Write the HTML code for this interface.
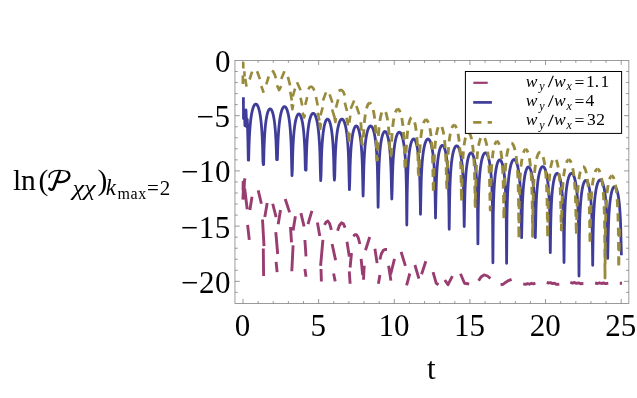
<!DOCTYPE html>
<html><head><meta charset="utf-8"><title>plot</title>
<style>
html,body{margin:0;padding:0;background:#fff;}
body{width:637px;height:398px;overflow:hidden;font-family:"Liberation Serif",serif;}
svg{display:block;}
text{filter:grayscale(1);}
text{font-family:"Liberation Serif",serif;fill:#000;}
.it{font-style:italic;}
</style></head><body>
<svg width="637" height="398" viewBox="0 0 637 398">
<rect width="637" height="398" fill="#fff"/>
<!-- frame -->
<rect x="234.95" y="60.45" width="393.90" height="243.05" fill="none" stroke="#8a8a8a" stroke-width="0.85"/>
<path d="M243.00 303.50 v-4.50 M243.00 60.45 v4.50 M258.13 303.50 v-2.40 M258.13 60.45 v2.40 M273.26 303.50 v-2.40 M273.26 60.45 v2.40 M288.38 303.50 v-2.40 M288.38 60.45 v2.40 M303.51 303.50 v-2.40 M303.51 60.45 v2.40 M318.64 303.50 v-4.50 M318.64 60.45 v4.50 M333.77 303.50 v-2.40 M333.77 60.45 v2.40 M348.90 303.50 v-2.40 M348.90 60.45 v2.40 M364.02 303.50 v-2.40 M364.02 60.45 v2.40 M379.15 303.50 v-2.40 M379.15 60.45 v2.40 M394.28 303.50 v-4.50 M394.28 60.45 v4.50 M409.41 303.50 v-2.40 M409.41 60.45 v2.40 M424.54 303.50 v-2.40 M424.54 60.45 v2.40 M439.66 303.50 v-2.40 M439.66 60.45 v2.40 M454.79 303.50 v-2.40 M454.79 60.45 v2.40 M469.92 303.50 v-4.50 M469.92 60.45 v4.50 M485.05 303.50 v-2.40 M485.05 60.45 v2.40 M500.18 303.50 v-2.40 M500.18 60.45 v2.40 M515.30 303.50 v-2.40 M515.30 60.45 v2.40 M530.43 303.50 v-2.40 M530.43 60.45 v2.40 M545.56 303.50 v-4.50 M545.56 60.45 v4.50 M560.69 303.50 v-2.40 M560.69 60.45 v2.40 M575.82 303.50 v-2.40 M575.82 60.45 v2.40 M590.94 303.50 v-2.40 M590.94 60.45 v2.40 M606.07 303.50 v-2.40 M606.07 60.45 v2.40 M621.20 303.50 v-4.50 M621.20 60.45 v4.50 M234.95 71.50 h2.80 M628.85 71.50 h-2.80 M234.95 82.54 h2.80 M628.85 82.54 h-2.80 M234.95 93.59 h2.80 M628.85 93.59 h-2.80 M234.95 104.63 h2.80 M628.85 104.63 h-2.80 M234.95 115.68 h4.80 M628.85 115.68 h-4.80 M234.95 126.72 h2.80 M628.85 126.72 h-2.80 M234.95 137.76 h2.80 M628.85 137.76 h-2.80 M234.95 148.81 h2.80 M628.85 148.81 h-2.80 M234.95 159.86 h2.80 M628.85 159.86 h-2.80 M234.95 170.90 h4.80 M628.85 170.90 h-4.80 M234.95 181.94 h2.80 M628.85 181.94 h-2.80 M234.95 192.99 h2.80 M628.85 192.99 h-2.80 M234.95 204.04 h2.80 M628.85 204.04 h-2.80 M234.95 215.08 h2.80 M628.85 215.08 h-2.80 M234.95 226.12 h4.80 M628.85 226.12 h-4.80 M234.95 237.17 h2.80 M628.85 237.17 h-2.80 M234.95 248.21 h2.80 M628.85 248.21 h-2.80 M234.95 259.26 h2.80 M628.85 259.26 h-2.80 M234.95 270.31 h2.80 M628.85 270.31 h-2.80 M234.95 281.35 h4.80 M628.85 281.35 h-4.80 M234.95 292.39 h2.80 M628.85 292.39 h-2.80" stroke="#777" stroke-width="0.75" fill="none"/>
<!-- curves -->
<clipPath id="cp"><rect x="234.95" y="60.45" width="393.90" height="243.05"/></clipPath>
<g clip-path="url(#cp)" fill="none" stroke-linejoin="round">
<path d="M245.00 178.30 L243.60 184.00 L242.90 199.60 M244.60 179.50 L243.90 192.00 M243.20 181.00 L243.00 190.00 M244.70 188.80 L247.20 209.20 M249.90 210.00 L252.00 196.70 M247.60 224.90 L249.30 239.90 M258.20 190.40 L261.40 203.75 M267.20 203.00 L264.80 217.10 M262.50 219.50 L264.00 246.20 M263.30 248.50 L263.60 276.00 M272.70 203.75 L276.10 217.10 M280.50 210.00 L278.20 224.20 M275.80 232.10 L277.70 254.00 M276.10 261.90 L277.10 272.10 M285.20 199.00 L289.60 212.40 M295.40 216.30 L293.10 230.40 M290.50 227.00 L291.50 242.30 M293.10 245.40 L291.80 271.30 M300.90 213.20 L304.10 226.50 M311.90 210.80 L308.00 224.20 M304.90 240.00 L306.00 256.40 M304.90 269.00 L306.00 276.80 M317.40 222.60 L319.80 236.00 M322.90 239.90 L320.60 265.80 M321.00 269.00 L321.40 281.50 M324.50 224.90 L326.00 222.20 L327.80 221.00 L329.60 223.50 L331.40 229.80 M332.10 244.00 L335.60 260.30 M333.60 273.50 L335.20 281.40 M337.60 230.70 L339.40 225.50 L341.50 222.80 L343.40 223.80 L345.10 227.60 M347.00 241.70 L349.30 256.60 M351.50 253.00 L350.10 267.50 M349.30 271.30 L350.10 283.75 M353.30 236.20 L354.80 234.80 L356.40 234.60 L358.20 237.50 L359.90 244.00 M361.10 258.80 L362.70 275.00 M364.20 265.70 L363.50 279.80 M369.70 237.00 L365.50 250.30 M374.90 248.75 L377.10 263.10 M379.90 275.10 L378.40 283.75 M379.90 259.50 L381.30 254.00 L383.10 250.60 L385.00 249.40 L387.00 249.50 M388.60 265.70 L390.90 280.60 M394.50 258.80 L390.60 274.50 M401.10 251.80 L405.40 265.90 M409.80 273.50 L406.60 285.30 M414.90 265.00 L418.90 278.70 M425.80 261.20 L421.60 274.20 M433.05 272.20 L436.20 283.20 L438.50 284.70 M444.80 280.00 L448.00 284.70 L452.40 276.10 M460.50 273.75 L464.50 283.20 L469.20 284.00 M478.60 280.80 L481.00 277.00 L484.10 274.85 L487.50 276.00 L490.40 278.50 M500.60 284.70 L503.00 284.30 L505.50 282.40 L508.50 280.60 L511.60 279.30 M523.20 283.90 L525.50 284.40 L527.50 283.60 L529.50 284.20 L531.50 283.30 L533.50 283.80 L535.40 283.20 M546.70 282.40 L548.50 283.00 L550.50 282.60 L552.50 283.60 L554.50 283.20 L556.50 284.40 L559.30 284.20 M570.30 282.40 L572.50 283.10 L574.50 282.50 L576.50 283.30 L578.50 282.90 L580.50 283.70 L583.40 283.50 M595.10 283.00 L597.50 283.50 L599.50 282.80 L601.50 283.50 L603.50 283.00 L605.50 283.60 L608.30 283.30 M619.80 283.30 L622.00 283.30" stroke="#993d71" stroke-width="2.9"/>
<path d="M243.40 97.30 L243.50 118.60 L244.60 114.50 L244.90 125.60 L246.00 110.00 L246.70 127.00 L247.30 119.50 L247.90 140.00 L248.30 160.10 L248.66 160.10 L249.01 146.15 L249.37 137.30 L249.73 131.09 L250.09 126.34 L250.44 122.54 L250.80 119.41 L251.16 116.78 L251.51 114.54 L251.87 112.61 L252.23 110.96 L252.59 109.54 L252.94 108.32 L253.30 107.28 L253.66 106.40 L254.01 105.68 L254.37 105.10 L254.73 104.66 L255.09 104.35 L255.44 104.16 L255.80 104.10 L256.16 104.16 L256.51 104.35 L256.87 104.66 L257.23 105.10 L257.59 105.68 L257.94 106.40 L258.30 107.28 L258.66 108.32 L259.01 109.54 L259.37 110.96 L259.73 112.61 L260.09 114.54 L260.44 116.78 L260.80 119.41 L261.16 122.54 L261.51 126.34 L261.87 131.09 L262.23 137.30 L262.59 146.15 L262.94 161.40 L263.30 164.60 L263.30 164.60 L263.65 164.46 L264.00 149.23 L264.35 140.39 L264.71 134.20 L265.06 129.49 L265.41 125.73 L265.76 122.64 L266.11 120.06 L266.46 117.87 L266.81 116.02 L267.16 114.44 L267.52 113.10 L267.87 111.98 L268.22 111.04 L268.57 110.28 L268.92 109.69 L269.27 109.25 L269.62 108.96 L269.97 108.82 L270.33 108.82 L270.68 108.96 L271.03 109.25 L271.38 109.69 L271.73 110.28 L272.08 111.04 L272.43 111.98 L272.78 113.10 L273.14 114.44 L273.49 116.02 L273.84 117.87 L274.19 120.06 L274.54 122.64 L274.89 125.73 L275.24 129.49 L275.59 134.20 L275.95 140.39 L276.30 149.23 L276.65 159.60 L277.00 159.60 L277.00 159.60 L277.36 159.60 L277.71 148.65 L278.07 139.80 L278.43 133.59 L278.79 128.84 L279.14 125.04 L279.50 121.91 L279.86 119.28 L280.21 117.04 L280.57 115.11 L280.93 113.46 L281.29 112.04 L281.64 110.82 L282.00 109.78 L282.36 108.90 L282.71 108.18 L283.07 107.60 L283.43 107.16 L283.79 106.85 L284.14 106.66 L284.50 106.60 L284.86 106.66 L285.21 106.85 L285.57 107.16 L285.93 107.60 L286.29 108.18 L286.64 108.90 L287.00 109.78 L287.36 110.82 L287.71 112.04 L288.07 113.46 L288.43 115.11 L288.79 117.04 L289.14 119.28 L289.50 121.91 L289.86 125.04 L290.21 128.84 L290.57 133.59 L290.93 139.80 L291.29 148.65 L291.64 163.90 L292.00 175.70 L292.00 175.70 L292.35 169.66 L292.70 154.43 L293.05 145.59 L293.41 139.40 L293.76 134.69 L294.11 130.93 L294.46 127.84 L294.81 125.26 L295.16 123.07 L295.51 121.22 L295.86 119.64 L296.22 118.30 L296.57 117.18 L296.92 116.24 L297.27 115.48 L297.62 114.89 L297.97 114.45 L298.32 114.16 L298.67 114.02 L299.03 114.02 L299.38 114.16 L299.73 114.45 L300.08 114.89 L300.43 115.48 L300.78 116.24 L301.13 117.18 L301.48 118.30 L301.84 119.64 L302.19 121.22 L302.54 123.07 L302.89 125.26 L303.24 127.84 L303.59 130.93 L303.94 134.69 L304.29 139.40 L304.65 145.59 L305.00 154.43 L305.35 169.66 L305.70 170.10 L305.70 170.10 L306.06 170.10 L306.41 155.35 L306.77 146.50 L307.13 140.29 L307.49 135.54 L307.84 131.74 L308.20 128.61 L308.56 125.98 L308.91 123.74 L309.27 121.81 L309.63 120.16 L309.99 118.74 L310.34 117.52 L310.70 116.48 L311.06 115.60 L311.41 114.88 L311.77 114.30 L312.13 113.86 L312.49 113.55 L312.84 113.36 L313.20 113.30 L313.56 113.36 L313.91 113.55 L314.27 113.86 L314.63 114.30 L314.99 114.88 L315.34 115.60 L315.70 116.48 L316.06 117.52 L316.41 118.74 L316.77 120.16 L317.13 121.81 L317.49 123.74 L317.84 125.98 L318.20 128.61 L318.56 131.74 L318.91 135.54 L319.27 140.29 L319.63 146.50 L319.99 155.35 L320.34 170.60 L320.70 180.70 L320.70 180.70 L321.05 174.76 L321.40 159.53 L321.75 150.69 L322.11 144.50 L322.46 139.79 L322.81 136.03 L323.16 132.94 L323.51 130.36 L323.86 128.17 L324.21 126.32 L324.56 124.74 L324.92 123.40 L325.27 122.28 L325.62 121.34 L325.97 120.58 L326.32 119.99 L326.67 119.55 L327.02 119.26 L327.37 119.12 L327.73 119.12 L328.08 119.26 L328.43 119.55 L328.78 119.99 L329.13 120.58 L329.48 121.34 L329.83 122.28 L330.18 123.40 L330.54 124.74 L330.89 126.32 L331.24 128.17 L331.59 130.36 L331.94 132.94 L332.29 136.03 L332.64 139.79 L332.99 144.50 L333.35 150.69 L333.70 159.53 L334.05 174.76 L334.40 180.20 L334.40 180.20 L334.76 176.40 L335.11 161.15 L335.47 152.30 L335.83 146.09 L336.19 141.34 L336.54 137.54 L336.90 134.41 L337.26 131.78 L337.61 129.54 L337.97 127.61 L338.33 125.96 L338.69 124.54 L339.04 123.32 L339.40 122.28 L339.76 121.40 L340.11 120.68 L340.47 120.10 L340.83 119.66 L341.19 119.35 L341.54 119.16 L341.90 119.10 L342.26 119.16 L342.61 119.35 L342.97 119.66 L343.33 120.10 L343.69 120.68 L344.04 121.40 L344.40 122.28 L344.76 123.32 L345.11 124.54 L345.47 125.96 L345.83 127.61 L346.19 129.54 L346.54 131.78 L346.90 134.41 L347.26 137.54 L347.61 141.34 L347.97 146.09 L348.33 152.30 L348.69 161.15 L349.04 176.40 L349.40 189.70 L349.40 189.70 L349.75 181.66 L350.10 166.43 L350.45 157.59 L350.81 151.40 L351.16 146.69 L351.51 142.93 L351.86 139.84 L352.21 137.26 L352.56 135.07 L352.91 133.22 L353.26 131.64 L353.62 130.30 L353.97 129.18 L354.32 128.24 L354.67 127.48 L355.02 126.89 L355.37 126.45 L355.72 126.16 L356.07 126.02 L356.43 126.02 L356.78 126.16 L357.13 126.45 L357.48 126.89 L357.83 127.48 L358.18 128.24 L358.53 129.18 L358.88 130.30 L359.24 131.64 L359.59 133.22 L359.94 135.07 L360.29 137.26 L360.64 139.84 L360.99 142.93 L361.34 146.69 L361.69 151.40 L362.05 157.59 L362.40 166.43 L362.75 181.66 L363.10 196.00 L363.10 196.00 L363.46 183.30 L363.81 168.05 L364.17 159.20 L364.53 152.99 L364.89 148.24 L365.24 144.44 L365.60 141.31 L365.96 138.68 L366.31 136.44 L366.67 134.51 L367.03 132.86 L367.39 131.44 L367.74 130.22 L368.10 129.18 L368.46 128.30 L368.81 127.58 L369.17 127.00 L369.53 126.56 L369.89 126.25 L370.24 126.06 L370.60 126.00 L370.96 126.06 L371.31 126.25 L371.67 126.56 L372.03 127.00 L372.39 127.58 L372.74 128.30 L373.10 129.18 L373.46 130.22 L373.81 131.44 L374.17 132.86 L374.53 134.51 L374.89 136.44 L375.24 138.68 L375.60 141.31 L375.96 144.44 L376.31 148.24 L376.67 152.99 L377.03 159.20 L377.39 168.05 L377.74 183.30 L378.10 207.30 L378.10 207.30 L378.45 187.16 L378.80 171.93 L379.15 163.09 L379.51 156.90 L379.86 152.19 L380.21 148.43 L380.56 145.34 L380.91 142.76 L381.26 140.57 L381.61 138.72 L381.96 137.14 L382.32 135.80 L382.67 134.68 L383.02 133.74 L383.37 132.98 L383.72 132.39 L384.07 131.95 L384.42 131.66 L384.77 131.52 L385.13 131.52 L385.48 131.66 L385.83 131.95 L386.18 132.39 L386.53 132.98 L386.88 133.74 L387.23 134.68 L387.58 135.80 L387.94 137.14 L388.29 138.72 L388.64 140.57 L388.99 142.76 L389.34 145.34 L389.69 148.43 L390.04 152.19 L390.39 156.90 L390.75 163.09 L391.10 171.93 L391.45 187.16 L391.80 199.00 L391.80 199.00 L392.16 189.50 L392.51 174.25 L392.87 165.40 L393.23 159.19 L393.59 154.44 L393.94 150.64 L394.30 147.51 L394.66 144.88 L395.01 142.64 L395.37 140.71 L395.73 139.06 L396.09 137.64 L396.44 136.42 L396.80 135.38 L397.16 134.50 L397.51 133.78 L397.87 133.20 L398.23 132.76 L398.59 132.45 L398.94 132.26 L399.30 132.20 L399.66 132.26 L400.01 132.45 L400.37 132.76 L400.73 133.20 L401.09 133.78 L401.44 134.50 L401.80 135.38 L402.16 136.42 L402.51 137.64 L402.87 139.06 L403.23 140.71 L403.59 142.64 L403.94 144.88 L404.30 147.51 L404.66 150.64 L405.01 154.44 L405.37 159.19 L405.73 165.40 L406.09 174.25 L406.44 189.50 L406.80 225.00 L406.80 225.00 L407.15 194.66 L407.50 179.43 L407.85 170.59 L408.21 164.40 L408.56 159.69 L408.91 155.93 L409.26 152.84 L409.61 150.26 L409.96 148.07 L410.31 146.22 L410.66 144.64 L411.02 143.30 L411.37 142.18 L411.72 141.24 L412.07 140.48 L412.42 139.89 L412.77 139.45 L413.12 139.16 L413.47 139.02 L413.83 139.02 L414.18 139.16 L414.53 139.45 L414.88 139.89 L415.23 140.48 L415.58 141.24 L415.93 142.18 L416.28 143.30 L416.64 144.64 L416.99 146.22 L417.34 148.07 L417.69 150.26 L418.04 152.84 L418.39 155.93 L418.74 159.69 L419.09 164.40 L419.45 170.59 L419.80 179.43 L420.15 194.66 L420.50 214.30 L420.50 214.30 L420.86 196.30 L421.21 181.05 L421.57 172.20 L421.93 165.99 L422.29 161.24 L422.64 157.44 L423.00 154.31 L423.36 151.68 L423.71 149.44 L424.07 147.51 L424.43 145.86 L424.79 144.44 L425.14 143.22 L425.50 142.18 L425.86 141.30 L426.21 140.58 L426.57 140.00 L426.93 139.56 L427.29 139.25 L427.64 139.06 L428.00 139.00 L428.36 139.06 L428.71 139.25 L429.07 139.56 L429.43 140.00 L429.79 140.58 L430.14 141.30 L430.50 142.18 L430.86 143.22 L431.21 144.44 L431.57 145.86 L431.93 147.51 L432.29 149.44 L432.64 151.68 L433.00 154.31 L433.36 157.44 L433.71 161.24 L434.07 165.99 L434.43 172.20 L434.79 181.05 L435.14 196.30 L435.50 218.00 L435.50 218.00 L435.85 200.96 L436.20 185.73 L436.55 176.89 L436.91 170.70 L437.26 165.99 L437.61 162.23 L437.96 159.14 L438.31 156.56 L438.66 154.37 L439.01 152.52 L439.36 150.94 L439.72 149.60 L440.07 148.48 L440.42 147.54 L440.77 146.78 L441.12 146.19 L441.47 145.75 L441.82 145.46 L442.17 145.32 L442.53 145.32 L442.88 145.46 L443.23 145.75 L443.58 146.19 L443.93 146.78 L444.28 147.54 L444.63 148.48 L444.98 149.60 L445.34 150.94 L445.69 152.52 L446.04 154.37 L446.39 156.56 L446.74 159.14 L447.09 162.23 L447.44 165.99 L447.79 170.70 L448.15 176.89 L448.50 185.73 L448.85 200.96 L449.20 229.30 L449.20 229.30 L449.56 203.10 L449.91 187.85 L450.27 179.00 L450.63 172.79 L450.99 168.04 L451.34 164.24 L451.70 161.11 L452.06 158.48 L452.41 156.24 L452.77 154.31 L453.13 152.66 L453.49 151.24 L453.84 150.02 L454.20 148.98 L454.56 148.10 L454.91 147.38 L455.27 146.80 L455.63 146.36 L455.99 146.05 L456.34 145.86 L456.70 145.80 L457.06 145.86 L457.41 146.05 L457.77 146.36 L458.13 146.80 L458.49 147.38 L458.84 148.10 L459.20 148.98 L459.56 150.02 L459.91 151.24 L460.27 152.66 L460.63 154.31 L460.99 156.24 L461.34 158.48 L461.70 161.11 L462.06 164.24 L462.41 168.04 L462.77 172.79 L463.13 179.00 L463.49 187.85 L463.84 203.10 L464.20 226.50 L464.20 226.50 L464.55 208.46 L464.90 193.23 L465.25 184.39 L465.61 178.20 L465.96 173.49 L466.31 169.73 L466.66 166.64 L467.01 164.06 L467.36 161.87 L467.71 160.02 L468.06 158.44 L468.42 157.10 L468.77 155.98 L469.12 155.04 L469.47 154.28 L469.82 153.69 L470.17 153.25 L470.52 152.96 L470.87 152.82 L471.23 152.82 L471.58 152.96 L471.93 153.25 L472.28 153.69 L472.63 154.28 L472.98 155.04 L473.33 155.98 L473.68 157.10 L474.04 158.44 L474.39 160.02 L474.74 161.87 L475.09 164.06 L475.44 166.64 L475.79 169.73 L476.14 173.49 L476.49 178.20 L476.85 184.39 L477.20 193.23 L477.55 208.46 L477.90 243.90 L477.90 243.90 L478.26 210.10 L478.61 194.85 L478.97 186.00 L479.33 179.79 L479.69 175.04 L480.04 171.24 L480.40 168.11 L480.76 165.48 L481.11 163.24 L481.47 161.31 L481.83 159.66 L482.19 158.24 L482.54 157.02 L482.90 155.98 L483.26 155.10 L483.61 154.38 L483.97 153.80 L484.33 153.36 L484.69 153.05 L485.04 152.86 L485.40 152.80 L485.76 152.86 L486.11 153.05 L486.47 153.36 L486.83 153.80 L487.19 154.38 L487.54 155.10 L487.90 155.98 L488.26 157.02 L488.61 158.24 L488.97 159.66 L489.33 161.31 L489.69 163.24 L490.04 165.48 L490.40 168.11 L490.76 171.24 L491.11 175.04 L491.47 179.79 L491.83 186.00 L492.19 194.85 L492.54 210.10 L492.90 262.80 L492.90 262.80 L493.25 215.56 L493.60 200.33 L493.95 191.49 L494.31 185.30 L494.66 180.59 L495.01 176.83 L495.36 173.74 L495.71 171.16 L496.06 168.97 L496.41 167.12 L496.76 165.54 L497.12 164.20 L497.47 163.08 L497.82 162.14 L498.17 161.38 L498.52 160.79 L498.87 160.35 L499.22 160.06 L499.57 159.92 L499.93 159.92 L500.28 160.06 L500.63 160.35 L500.98 160.79 L501.33 161.38 L501.68 162.14 L502.03 163.08 L502.38 164.20 L502.74 165.54 L503.09 167.12 L503.44 168.97 L503.79 171.16 L504.14 173.74 L504.49 176.83 L504.84 180.59 L505.19 185.30 L505.55 191.49 L505.90 200.33 L506.25 215.56 L506.60 263.30 L506.60 263.30 L506.96 216.80 L507.31 201.55 L507.67 192.70 L508.03 186.49 L508.39 181.74 L508.74 177.94 L509.10 174.81 L509.46 172.18 L509.81 169.94 L510.17 168.01 L510.53 166.36 L510.89 164.94 L511.24 163.72 L511.60 162.68 L511.96 161.80 L512.31 161.08 L512.67 160.50 L513.03 160.06 L513.39 159.75 L513.74 159.56 L514.10 159.50 L514.46 159.56 L514.81 159.75 L515.17 160.06 L515.53 160.50 L515.89 161.08 L516.24 161.80 L516.60 162.68 L516.96 163.72 L517.31 164.94 L517.67 166.36 L518.03 168.01 L518.39 169.94 L518.74 172.18 L519.10 174.81 L519.46 177.94 L519.81 181.74 L520.17 186.49 L520.53 192.70 L520.89 201.55 L521.24 216.80 L521.60 237.70 L521.60 237.70 L521.95 222.66 L522.30 207.43 L522.65 198.59 L523.01 192.40 L523.36 187.69 L523.71 183.93 L524.06 180.84 L524.41 178.26 L524.76 176.07 L525.11 174.22 L525.46 172.64 L525.82 171.30 L526.17 170.18 L526.52 169.24 L526.87 168.48 L527.22 167.89 L527.57 167.45 L527.92 167.16 L528.27 167.02 L528.63 167.02 L528.98 167.16 L529.33 167.45 L529.68 167.89 L530.03 168.48 L530.38 169.24 L530.73 170.18 L531.08 171.30 L531.44 172.64 L531.79 174.22 L532.14 176.07 L532.49 178.26 L532.84 180.84 L533.19 183.93 L533.54 187.69 L533.89 192.40 L534.25 198.59 L534.60 207.43 L534.95 222.66 L535.30 237.70 L535.30 237.70 L535.66 223.90 L536.01 208.65 L536.37 199.80 L536.73 193.59 L537.09 188.84 L537.44 185.04 L537.80 181.91 L538.16 179.28 L538.51 177.04 L538.87 175.11 L539.23 173.46 L539.59 172.04 L539.94 170.82 L540.30 169.78 L540.66 168.90 L541.01 168.18 L541.37 167.60 L541.73 167.16 L542.09 166.85 L542.44 166.66 L542.80 166.60 L543.16 166.66 L543.51 166.85 L543.87 167.16 L544.23 167.60 L544.59 168.18 L544.94 168.90 L545.30 169.78 L545.66 170.82 L546.01 172.04 L546.37 173.46 L546.73 175.11 L547.09 177.04 L547.44 179.28 L547.80 181.91 L548.16 185.04 L548.51 188.84 L548.87 193.59 L549.23 199.80 L549.59 208.65 L549.94 223.90 L550.30 252.70 L550.30 252.70 L550.65 228.96 L551.00 213.73 L551.35 204.89 L551.71 198.70 L552.06 193.99 L552.41 190.23 L552.76 187.14 L553.11 184.56 L553.46 182.37 L553.81 180.52 L554.16 178.94 L554.52 177.60 L554.87 176.48 L555.22 175.54 L555.57 174.78 L555.92 174.19 L556.27 173.75 L556.62 173.46 L556.97 173.32 L557.33 173.32 L557.68 173.46 L558.03 173.75 L558.38 174.19 L558.73 174.78 L559.08 175.54 L559.43 176.48 L559.78 177.60 L560.14 178.94 L560.49 180.52 L560.84 182.37 L561.19 184.56 L561.54 187.14 L561.89 190.23 L562.24 193.99 L562.59 198.70 L562.95 204.89 L563.30 213.73 L563.65 228.96 L564.00 262.50 L564.00 262.50 L564.36 230.60 L564.71 215.35 L565.07 206.50 L565.43 200.29 L565.79 195.54 L566.14 191.74 L566.50 188.61 L566.86 185.98 L567.21 183.74 L567.57 181.81 L567.93 180.16 L568.29 178.74 L568.64 177.52 L569.00 176.48 L569.36 175.60 L569.71 174.88 L570.07 174.30 L570.43 173.86 L570.79 173.55 L571.14 173.36 L571.50 173.30 L571.86 173.36 L572.21 173.55 L572.57 173.86 L572.93 174.30 L573.29 174.88 L573.64 175.60 L574.00 176.48 L574.36 177.52 L574.71 178.74 L575.07 180.16 L575.43 181.81 L575.79 183.74 L576.14 185.98 L576.50 188.61 L576.86 191.74 L577.21 195.54 L577.57 200.29 L577.93 206.50 L578.29 215.35 L578.64 230.60 L579.00 276.00 L579.00 276.00 L579.35 236.06 L579.70 220.83 L580.05 211.99 L580.41 205.80 L580.76 201.09 L581.11 197.33 L581.46 194.24 L581.81 191.66 L582.16 189.47 L582.51 187.62 L582.86 186.04 L583.22 184.70 L583.57 183.58 L583.92 182.64 L584.27 181.88 L584.62 181.29 L584.97 180.85 L585.32 180.56 L585.67 180.42 L586.03 180.42 L586.38 180.56 L586.73 180.85 L587.08 181.29 L587.43 181.88 L587.78 182.64 L588.13 183.58 L588.48 184.70 L588.84 186.04 L589.19 187.62 L589.54 189.47 L589.89 191.66 L590.24 194.24 L590.59 197.33 L590.94 201.09 L591.29 205.80 L591.65 211.99 L592.00 220.83 L592.35 236.06 L592.70 265.30 L592.70 265.30 L593.06 237.20 L593.41 221.95 L593.77 213.10 L594.13 206.89 L594.49 202.14 L594.84 198.34 L595.20 195.21 L595.56 192.58 L595.91 190.34 L596.27 188.41 L596.63 186.76 L596.99 185.34 L597.34 184.12 L597.70 183.08 L598.06 182.20 L598.41 181.48 L598.77 180.90 L599.13 180.46 L599.49 180.15 L599.84 179.96 L600.20 179.90 L600.56 179.96 L600.91 180.15 L601.27 180.46 L601.63 180.90 L601.99 181.48 L602.34 182.20 L602.70 183.08 L603.06 184.12 L603.41 185.34 L603.77 186.76 L604.13 188.41 L604.49 190.34 L604.84 192.58 L605.20 195.21 L605.56 198.34 L605.91 202.14 L606.27 206.89 L606.63 213.10 L606.99 221.95 L607.34 237.20 L607.70 258.40 L607.70 258.40 L608.05 242.36 L608.40 227.13 L608.75 218.29 L609.11 212.10 L609.46 207.39 L609.81 203.63 L610.16 200.54 L610.51 197.96 L610.86 195.77 L611.21 193.92 L611.56 192.34 L611.92 191.00 L612.27 189.88 L612.62 188.94 L612.97 188.18 L613.32 187.59 L613.67 187.15 L614.02 186.86 L614.37 186.72 L614.73 186.72 L615.08 186.86 L615.43 187.15 L615.78 187.59 L616.13 188.18 L616.48 188.94 L616.83 189.88 L617.18 191.00 L617.54 192.34 L617.89 193.92 L618.24 195.77 L618.59 197.96 L618.94 200.54 L619.29 203.63 L619.64 207.39 L619.99 212.10 L620.35 218.29 L620.70 227.13 L621.05 242.36 L621.40 255.30" stroke="#3f3d99" stroke-width="2.8"/>
<g stroke="#998b3d" stroke-width="2.85">
<path d="M360.30 116.03 L360.64 119.79 L360.99 124.50 L361.33 130.69 L361.68 139.53 L362.02 144.00 L362.37 144.00 L362.37 144.00 L362.72 144.00 L363.07 144.00 L363.42 136.20 L363.77 129.99 L364.12 125.24 L364.47 121.44 L364.82 118.31 L365.17 115.68 L365.52 113.44 L365.87 111.51 L366.22 109.86 L366.57 108.44 L366.92 107.22 L367.27 106.18 L367.62 105.30 L367.97 104.58 L368.32 104.00 L368.67 103.56 L369.02 103.25 L369.37 103.06 L369.72 103.00" stroke-dasharray="8.400 6.249" stroke-dashoffset="8.400"/>
<path d="M369.72 103.00 L370.07 103.06 L370.42 103.25 L370.77 103.56 L371.12 104.00 L371.47 104.58 L371.82 105.30 L372.17 106.18 L372.52 107.22 L372.87 108.44 L373.22 109.86 L373.57 111.51 L373.92 113.44 L374.27 115.68 L374.62 118.31 L374.97 121.44 L375.32 125.24 L375.67 129.99 L376.03 136.20 L376.38 145.05 L376.73 160.00 L377.08 160.00 L377.08 160.00 L377.42 160.00 L377.76 150.43 L378.11 141.59 L378.45 135.40 L378.80 130.69 L379.14 126.93 L379.49 123.84 L379.83 121.26 L380.18 119.07 L380.52 117.22 L380.87 115.64 L381.21 114.30 L381.55 113.18 L381.90 112.24 L382.24 111.48 L382.59 110.89 L382.93 110.45 L383.28 110.16 L383.62 110.02" stroke-dasharray="8.602 6.399" stroke-dashoffset="6.751"/>
<path d="M383.62 110.02 L383.97 110.02 L384.31 110.16 L384.66 110.45 L385.00 110.89 L385.34 111.48 L385.69 112.24 L386.03 113.18 L386.38 114.30 L386.72 115.64 L387.07 117.22 L387.41 119.07 L387.76 121.26 L388.10 123.84 L388.44 126.93 L388.79 130.69 L389.13 135.40 L389.48 141.59 L389.82 150.43 L390.17 156.00 L390.51 156.00 L390.51 156.00 L390.86 156.00 L391.21 151.25 L391.56 142.40 L391.91 136.19 L392.26 131.44 L392.61 127.64 L392.96 124.51 L393.31 121.88 L393.66 119.64 L394.01 117.71 L394.36 116.06 L394.71 114.64 L395.07 113.42 L395.42 112.38 L395.77 111.50 L396.12 110.78 L396.47 110.20 L396.82 109.76 L397.17 109.45 L397.52 109.26 L397.87 109.20" stroke-dasharray="8.489 6.315" stroke-dashoffset="11.650"/>
<path d="M397.87 109.20 L398.22 109.26 L398.57 109.45 L398.92 109.76 L399.27 110.20 L399.62 110.78 L399.97 111.50 L400.32 112.38 L400.67 113.42 L401.02 114.64 L401.37 116.06 L401.72 117.71 L402.07 119.64 L402.42 121.88 L402.77 124.51 L403.12 127.64 L403.47 131.44 L403.82 136.19 L404.17 142.40 L404.52 151.25 L404.87 166.50 L405.22 170.00 L405.22 170.00 L405.57 170.00 L405.91 157.83 L406.26 148.99 L406.60 142.80 L406.94 138.09 L407.29 134.33 L407.63 131.24 L407.98 128.66 L408.32 126.47 L408.67 124.62 L409.01 123.04 L409.36 121.70 L409.70 120.58 L410.05 119.64 L410.39 118.88 L410.73 118.29 L411.08 117.85 L411.42 117.56 L411.77 117.42" stroke-dasharray="8.011 5.959" stroke-dashoffset="4.009"/>
<path d="M411.77 117.42 L412.11 117.42 L412.46 117.56 L412.80 117.85 L413.15 118.29 L413.49 118.88 L413.84 119.64 L414.18 120.58 L414.52 121.70 L414.87 123.04 L415.21 124.62 L415.56 126.47 L415.90 128.66 L416.25 131.24 L416.59 134.33 L416.94 138.09 L417.28 142.80 L417.62 148.99 L417.97 157.83 L418.31 173.06 L418.66 175.00 L418.66 175.00 L419.01 175.00 L419.36 161.85 L419.71 153.00 L420.06 146.79 L420.41 142.04 L420.76 138.24 L421.11 135.11 L421.46 132.48 L421.81 130.24 L422.16 128.31 L422.51 126.66 L422.86 125.24 L423.21 124.02 L423.56 122.98 L423.91 122.10 L424.26 121.38 L424.61 120.80 L424.96 120.36 L425.31 120.05 L425.66 119.86 L426.01 119.80" stroke-dasharray="8.645 6.431" stroke-dashoffset="9.046"/>
<path d="M426.01 119.80 L426.36 119.86 L426.71 120.05 L427.06 120.36 L427.41 120.80 L427.76 121.38 L428.12 122.10 L428.47 122.98 L428.82 124.02 L429.17 125.24 L429.52 126.66 L429.87 128.31 L430.22 130.24 L430.57 132.48 L430.92 135.11 L431.27 138.24 L431.62 142.04 L431.97 146.79 L432.32 153.00 L432.67 161.85 L433.02 177.10 L433.37 193.00 L433.37 193.00 L433.71 180.76 L434.06 165.53 L434.40 156.69 L434.75 150.50 L435.09 145.79 L435.44 142.03 L435.78 138.94 L436.12 136.36 L436.47 134.17 L436.81 132.32 L437.16 130.74 L437.50 129.40 L437.85 128.28 L438.19 127.34 L438.54 126.58 L438.88 125.99 L439.23 125.55 L439.57 125.26 L439.91 125.12" stroke-dasharray="7.836 5.829" stroke-dashoffset="3.922"/>
<path d="M439.91 125.12 L440.26 125.12 L440.60 125.26 L440.95 125.55 L441.29 125.99 L441.64 126.58 L441.98 127.34 L442.33 128.28 L442.67 129.40 L443.02 130.74 L443.36 132.32 L443.70 134.17 L444.05 136.36 L444.39 138.94 L444.74 142.03 L445.08 145.79 L445.43 150.50 L445.77 156.69 L446.12 165.53 L446.46 180.76 L446.80 188.00 L446.80 188.00 L447.15 182.50 L447.51 167.25 L447.86 158.40 L448.21 152.19 L448.56 147.44 L448.91 143.64 L449.26 140.51 L449.61 137.88 L449.96 135.64 L450.31 133.71 L450.66 132.06 L451.01 130.64 L451.36 129.42 L451.71 128.38 L452.06 127.50 L452.41 126.78 L452.76 126.20 L453.11 125.76 L453.46 125.45 L453.81 125.26 L454.16 125.20" stroke-dasharray="7.752 5.767" stroke-dashoffset="10.640"/>
<path d="M454.16 125.20 L454.51 125.26 L454.86 125.45 L455.21 125.76 L455.56 126.20 L455.91 126.78 L456.26 127.50 L456.61 128.38 L456.96 129.42 L457.31 130.64 L457.66 132.06 L458.01 133.71 L458.36 135.64 L458.71 137.88 L459.06 140.51 L459.41 143.64 L459.76 147.44 L460.11 152.19 L460.46 158.40 L460.81 167.25 L461.17 182.50 L461.52 201.50 L461.52 201.50 L461.86 188.26 L462.20 173.03 L462.55 164.19 L462.91 158.00 L463.26 153.29 L463.61 149.53 L463.96 146.44 L464.31 143.86 L464.66 141.67 L465.01 139.82 L465.36 138.24 L465.72 136.90 L466.07 135.78 L466.42 134.84 L466.77 134.08 L467.12 133.49 L467.47 133.05 L467.82 132.76 L468.17 132.62" stroke-dasharray="7.901 5.878" stroke-dashoffset="3.954"/>
<path d="M468.17 132.62 L468.53 132.62 L468.88 132.76 L469.23 133.05 L469.58 133.49 L469.93 134.08 L470.28 134.84 L470.63 135.78 L470.98 136.90 L471.34 138.24 L471.69 139.82 L472.04 141.67 L472.39 143.86 L472.74 146.44 L473.09 149.53 L473.44 153.29 L473.79 158.00 L474.15 164.19 L474.50 173.03 L474.85 188.26 L475.20 206.50 L475.20 206.50 L475.56 193.50 L475.91 178.25 L476.27 169.40 L476.63 163.19 L476.99 158.44 L477.34 154.64 L477.70 151.51 L478.06 148.88 L478.41 146.64 L478.77 144.71 L479.13 143.06 L479.49 141.64 L479.84 140.42 L480.20 139.38 L480.56 138.50 L480.91 137.78 L481.27 137.20 L481.63 136.76 L481.99 136.45 L482.34 136.26 L482.70 136.20" stroke-dasharray="7.815 5.813" stroke-dashoffset="0.000"/>
<path d="M482.70 136.20 L483.06 136.26 L483.41 136.45 L483.77 136.76 L484.13 137.20 L484.49 137.78 L484.84 138.50 L485.20 139.38 L485.56 140.42 L485.91 141.64 L486.27 143.06 L486.63 144.71 L486.99 146.64 L487.34 148.88 L487.70 151.51 L488.06 154.64 L488.41 158.44 L488.77 163.19 L489.13 169.40 L489.49 178.25 L489.84 193.50 L490.20 210.00 L490.20 210.00 L490.55 197.16 L490.90 181.93 L491.25 173.09 L491.61 166.90 L491.96 162.19 L492.31 158.43 L492.66 155.34 L493.01 152.76 L493.36 150.57 L493.71 148.72 L494.06 147.14 L494.42 145.80 L494.77 144.68 L495.12 143.74 L495.47 142.98 L495.82 142.39 L496.17 141.95 L496.52 141.66 L496.87 141.52" stroke-dasharray="7.905 5.881" stroke-dashoffset="10.850"/>
<path d="M496.87 141.52 L497.23 141.52 L497.58 141.66 L497.93 141.95 L498.28 142.39 L498.63 142.98 L498.98 143.74 L499.33 144.68 L499.68 145.80 L500.04 147.14 L500.39 148.72 L500.74 150.57 L501.09 152.76 L501.44 155.34 L501.79 158.43 L502.14 162.19 L502.49 166.90 L502.85 173.09 L503.20 181.93 L503.55 197.16 L503.90 220.00 L503.90 220.00 L504.26 200.50 L504.61 185.25 L504.97 176.40 L505.33 170.19 L505.69 165.44 L506.04 161.64 L506.40 158.51 L506.76 155.88 L507.11 153.64 L507.47 151.71 L507.83 150.06 L508.19 148.64 L508.54 147.42 L508.90 146.38 L509.26 145.50 L509.61 144.78 L509.97 144.20 L510.33 143.76 L510.69 143.45 L511.04 143.26 L511.40 143.20" stroke-dasharray="8.463 6.295" stroke-dashoffset="4.236"/>
<path d="M511.40 143.20 L511.76 143.26 L512.11 143.45 L512.47 143.76 L512.83 144.20 L513.19 144.78 L513.54 145.50 L513.90 146.38 L514.26 147.42 L514.61 148.64 L514.97 150.06 L515.33 151.71 L515.69 153.64 L516.04 155.88 L516.40 158.51 L516.76 161.64 L517.11 165.44 L517.47 170.19 L517.83 176.40 L518.19 185.25 L518.54 200.50 L518.90 239.00 L518.90 239.00 L519.25 205.16 L519.60 189.93 L519.95 181.09 L520.31 174.90 L520.66 170.19 L521.01 166.43 L521.36 163.34 L521.71 160.76 L522.06 158.57 L522.41 156.72 L522.76 155.14 L523.12 153.80 L523.47 152.68 L523.82 151.74 L524.17 150.98 L524.52 150.39 L524.87 149.95 L525.22 149.66 L525.57 149.52" stroke-dasharray="8.103 6.028" stroke-dashoffset="0.000"/>
<path d="M525.57 149.52 L525.93 149.52 L526.28 149.66 L526.63 149.95 L526.98 150.39 L527.33 150.98 L527.68 151.74 L528.03 152.68 L528.38 153.80 L528.74 155.14 L529.09 156.72 L529.44 158.57 L529.79 160.76 L530.14 163.34 L530.49 166.43 L530.84 170.19 L531.19 174.90 L531.55 181.09 L531.90 189.93 L532.25 205.16 L532.60 236.40 L532.60 236.40 L532.96 209.50 L533.31 194.25 L533.67 185.40 L534.03 179.19 L534.39 174.44 L534.74 170.64 L535.10 167.51 L535.46 164.88 L535.81 162.64 L536.17 160.71 L536.53 159.06 L536.89 157.64 L537.24 156.42 L537.60 155.38 L537.96 154.50 L538.31 153.78 L538.67 153.20 L539.03 152.76 L539.39 152.45 L539.74 152.26 L540.10 152.20" stroke-dasharray="8.132 6.049" stroke-dashoffset="4.070"/>
<path d="M540.10 152.20 L540.46 152.26 L540.81 152.45 L541.17 152.76 L541.53 153.20 L541.89 153.78 L542.24 154.50 L542.60 155.38 L542.96 156.42 L543.31 157.64 L543.67 159.06 L544.03 160.71 L544.39 162.64 L544.74 164.88 L545.10 167.51 L545.46 170.64 L545.81 174.44 L546.17 179.19 L546.53 185.40 L546.89 194.25 L547.24 209.50 L547.60 237.70 L547.60 237.70 L547.95 213.66 L548.30 198.43 L548.65 189.59 L549.01 183.40 L549.36 178.69 L549.71 174.93 L550.06 171.84 L550.41 169.26 L550.76 167.07 L551.11 165.22 L551.46 163.64 L551.82 162.30 L552.17 161.18 L552.52 160.24 L552.87 159.48 L553.22 158.89 L553.57 158.45 L553.92 158.16 L554.27 158.02" stroke-dasharray="7.856 5.844" stroke-dashoffset="7.535"/>
<path d="M554.27 158.02 L554.63 158.02 L554.98 158.16 L555.33 158.45 L555.68 158.89 L556.03 159.48 L556.38 160.24 L556.73 161.18 L557.08 162.30 L557.44 163.64 L557.79 165.22 L558.14 167.07 L558.49 169.26 L558.84 171.84 L559.19 174.93 L559.54 178.69 L559.89 183.40 L560.25 189.59 L560.60 198.43 L560.95 213.66 L561.30 230.00 L561.30 230.00 L561.66 217.10 L562.01 201.85 L562.37 193.00 L562.73 186.79 L563.09 182.04 L563.44 178.24 L563.80 175.11 L564.16 172.48 L564.51 170.24 L564.87 168.31 L565.23 166.66 L565.59 165.24 L565.94 164.02 L566.30 162.98 L566.66 162.10 L567.01 161.38 L567.37 160.80 L567.73 160.36 L568.09 160.05 L568.44 159.86 L568.80 159.80" stroke-dasharray="7.919 5.891" stroke-dashoffset="10.869"/>
<path d="M568.80 159.80 L569.16 159.86 L569.51 160.05 L569.87 160.36 L570.23 160.80 L570.59 161.38 L570.94 162.10 L571.30 162.98 L571.66 164.02 L572.01 165.24 L572.37 166.66 L572.73 168.31 L573.09 170.24 L573.44 172.48 L573.80 175.11 L574.16 178.24 L574.51 182.04 L574.87 186.79 L575.23 193.00 L575.59 201.85 L575.94 217.10 L576.30 235.00 L576.30 235.00 L576.65 222.26 L577.00 207.03 L577.35 198.19 L577.71 192.00 L578.06 187.29 L578.41 183.53 L578.76 180.44 L579.11 177.86 L579.46 175.67 L579.81 173.82 L580.16 172.24 L580.52 170.90 L580.87 169.78 L581.22 168.84 L581.57 168.08 L581.92 167.49 L582.27 167.05 L582.62 166.76 L582.97 166.62" stroke-dasharray="7.818 5.816" stroke-dashoffset="3.913"/>
<path d="M582.97 166.62 L583.33 166.62 L583.68 166.76 L584.03 167.05 L584.38 167.49 L584.73 168.08 L585.08 168.84 L585.43 169.78 L585.78 170.90 L586.14 172.24 L586.49 173.82 L586.84 175.67 L587.19 177.86 L587.54 180.44 L587.89 183.53 L588.24 187.29 L588.59 192.00 L588.95 198.19 L589.30 207.03 L589.65 222.26 L590.00 244.00 L590.00 244.00 L590.36 226.40 L590.71 211.15 L591.07 202.30 L591.43 196.09 L591.79 191.34 L592.14 187.54 L592.50 184.41 L592.86 181.78 L593.21 179.54 L593.57 177.61 L593.93 175.96 L594.29 174.54 L594.64 173.32 L595.00 172.28 L595.36 171.40 L595.71 170.68 L596.07 170.10 L596.43 169.66 L596.79 169.35 L597.14 169.16 L597.50 169.10" stroke-dasharray="7.880 5.862" stroke-dashoffset="0.000"/>
<path d="M597.50 169.10 L597.86 169.16 L598.21 169.35 L598.57 169.66 L598.93 170.10 L599.29 170.68 L599.64 171.40 L600.00 172.28 L600.36 173.32 L600.71 174.54 L601.07 175.96 L601.43 177.61 L601.79 179.54 L602.14 181.78 L602.50 184.41 L602.86 187.54 L603.21 191.34 L603.57 196.09 L603.93 202.30 L604.29 211.15 L604.64 226.40 L605.00 278.00 L605.00 278.00 L605.35 231.56 L605.70 216.33 L606.05 207.49 L606.41 201.30 L606.76 196.59 L607.11 192.83 L607.46 189.74 L607.81 187.16 L608.16 184.97 L608.51 183.12 L608.86 181.54 L609.22 180.20 L609.57 179.08 L609.92 178.14 L610.27 177.38 L610.62 176.79 L610.97 176.35 L611.32 176.06 L611.67 175.92" stroke-dasharray="8.160 6.070" stroke-dashoffset="4.084"/>
<path d="M611.67 175.92 L612.03 175.92 L612.38 176.06 L612.73 176.35 L613.08 176.79 L613.43 177.38 L613.78 178.14 L614.13 179.08 L614.48 180.20 L614.84 181.54 L615.19 183.12 L615.54 184.97 L615.89 187.16 L616.24 189.74 L616.59 192.83 L616.94 196.59 L617.29 201.30 L617.65 207.49 L618.00 216.33 L618.35 231.56 L618.70 268.00 L619.20 248.00 L619.60 223.00" stroke-dasharray="8.200 6.100" stroke-dashoffset="4.104"/>
</g>
<path d="M243.20 62.00 L243.30 68.50 M244.40 71.20 L244.50 76.50 M242.80 75.60 L242.90 83.90 M245.20 78.70 L246.50 86.60 M249.60 79.50 L252.10 71.60 M257.10 71.20 L259.90 79.10 M261.30 86.00 L263.70 92.70 M266.30 84.40 L268.70 76.50 M272.00 70.60 L273.30 71.60 L274.60 74.40 L276.00 78.20 M277.00 85.30 L279.10 90.10 L281.20 86.20 M281.30 79.10 L284.40 71.20 M287.90 76.90 L290.10 85.30 M290.30 91.75 L291.80 100.40 M291.60 104.00 L292.40 109.20 L293.20 104.50 M292.80 96.50 L295.00 88.60 M297.00 82.30 L300.60 90.20 M300.60 97.70 L302.20 105.40 M302.60 112.60 L304.20 117.50 L305.00 114.50 M305.30 104.90 L307.20 97.10 M308.30 89.40 L309.60 87.30 L311.10 86.60 L312.80 87.60 L314.40 90.50 M316.00 97.10 L317.70 105.40 M317.70 112.80 L319.40 120.60 M319.50 122.40 L320.20 129.00 L320.90 123.00 M320.50 115.40 L322.70 107.40 M323.00 100.50 L326.00 92.40 M329.60 94.40 L332.40 102.70 M332.10 109.30 L334.30 116.50 L335.40 122.00 L336.00 118.00 M336.00 107.70 L338.20 99.40 M338.70 91.10 L340.00 90.10 L341.50 90.00 L343.30 91.80 L344.80 95.50 M344.80 102.70 L347.00 111.00 M346.50 117.80 L348.10 125.60 M348.10 131.70 L348.90 140.80 L349.50 133.00 M349.20 122.80 L350.30 115.60 M350.70 108.80 L354.20 100.50 M356.40 106.00 L359.20 114.30" stroke="#998b3d" stroke-width="2.65"/>
</g>
<!-- y tick labels -->
<g font-size="31" text-anchor="end" letter-spacing="0.5">
<text x="231.0" y="72">0</text>
<text x="230.4" y="127">−5</text>
<text x="231.0" y="182">−10</text>
<text x="230.8" y="237.7">−15</text>
<text x="231.0" y="292.9">−20</text>
</g>
<!-- x tick labels -->
<g font-size="31" text-anchor="middle">
<text x="242.6" y="335.8">0</text>
<text x="318.2" y="335.8">5</text>
<text x="393.9" y="335.8">10</text>
<text x="469.5" y="335.8">15</text>
<text x="545.2" y="335.8">20</text>
<text x="620.8" y="335.8">25</text>
<text x="431.2" y="379.4">t</text>
</g>
<!-- y axis label -->
<g>
<text x="12.9" y="189.9" font-size="29.5">ln</text>
<text x="38.6" y="189.6" font-size="29.5">(</text>
<g fill="none" stroke="#000" stroke-linecap="round" stroke-linejoin="round">
<path d="M49.3 188.6 C50.6 190.4 52.9 190.2 53.8 187.8 L59.7 172.0" stroke-width="2.5"/>
<path d="M49.3 177.4 C48.3 173.6 52.5 170.4 59.0 170.4 C63.0 170.4 66.0 170.9 67.6 172.0" stroke-width="1.4"/>
<path d="M67.6 172.0 C70.4 174.0 70.0 177.8 66.6 180.2 C64.0 182.0 60.6 182.6 57.4 181.5" stroke-width="2.4"/>
</g>
<text transform="translate(72.4 195.4) scale(1.27 1)" x="0" y="0" font-size="20.7" class="it">χχ</text>
<text x="97.4" y="189.6" font-size="29.5">)</text>
<text x="105.8" y="195.3" font-size="23" class="it">k</text>
<text x="117.4" y="198.5" font-size="16" letter-spacing="0.7">max</text>
<text x="147.0" y="195.3" font-size="21" letter-spacing="1">=2</text>
</g>
<!-- legend -->
<rect x="465.4" y="71.5" width="156.2" height="61.9" fill="#fff" stroke="#000" stroke-width="1"/>
<path d="M473.3 82.8 H487.7" stroke="#993d71" stroke-width="2.2"/>
<path d="M473.2 102.4 H491.9" stroke="#3f3d99" stroke-width="2.7"/>
<path d="M473.2 122.3 H481.4 M487.7 122.3 H491.9" stroke="#998b3d" stroke-width="2.7"/>
<text x="525.7" y="86.5" font-size="17.5" class="it">w</text><text x="539.2" y="90.1" font-size="12" class="it">y</text><path d="M548.3 87.3 L553.3 75.8" stroke="#000" stroke-width="1.1" fill="none"/><text x="553.9" y="86.5" font-size="17.5" class="it">w</text><text x="566.4" y="89.9" font-size="12" class="it">x</text><text x="574.5" y="87.5" font-size="17.5">=</text><text x="586.1" y="86.5" font-size="17.5">1.</text><text x="600.6" y="86.5" font-size="17.5">1</text>
<text x="525.7" y="106.1" font-size="17.5" class="it">w</text><text x="539.2" y="109.7" font-size="12" class="it">y</text><path d="M548.3 106.9 L553.3 95.4" stroke="#000" stroke-width="1.1" fill="none"/><text x="553.9" y="106.1" font-size="17.5" class="it">w</text><text x="566.4" y="109.5" font-size="12" class="it">x</text><text x="574.5" y="107.1" font-size="17.5">=</text><text x="585.5" y="106.1" font-size="17.5">4</text>
<text x="525.7" y="125.4" font-size="17.5" class="it">w</text><text x="539.2" y="129.0" font-size="12" class="it">y</text><path d="M548.3 126.2 L553.3 114.7" stroke="#000" stroke-width="1.1" fill="none"/><text x="553.9" y="125.4" font-size="17.5" class="it">w</text><text x="566.4" y="128.8" font-size="12" class="it">x</text><text x="574.5" y="126.4" font-size="17.5">=</text><text x="587.0" y="125.4" font-size="17.5" letter-spacing="0.6">32</text>
</svg>
</body></html>
